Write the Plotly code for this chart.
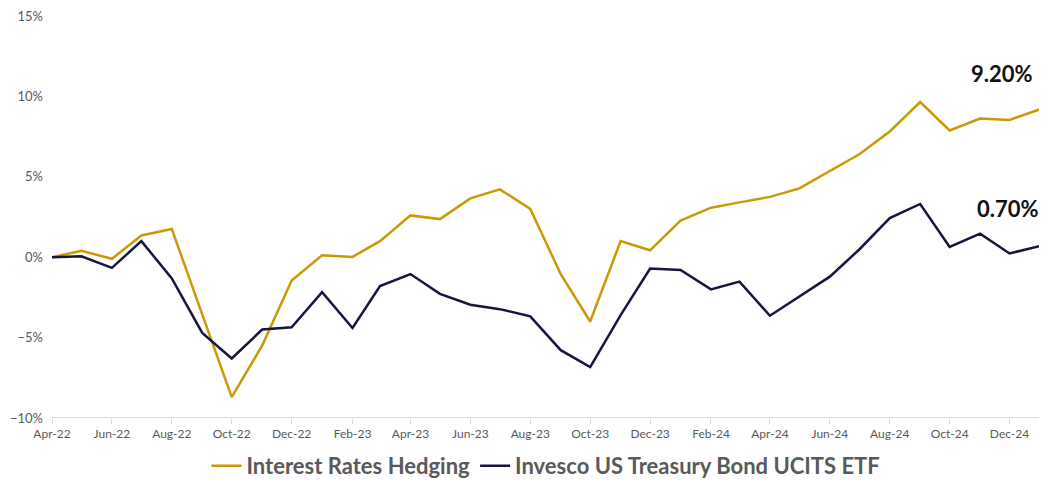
import plotly.graph_objects as go
import pandas as pd

months = pd.date_range("2022-04-01", "2025-01-01", freq="MS")

hedging = [0.0, 0.4, -0.1, 1.35, 1.75, -3.5, -8.7, -5.5, -1.45, 0.12, 0.02, 1.0, 2.6, 2.37, 3.66, 4.22,
           3.0, -1.05, -4.0, 1.0, 0.43, 2.28, 3.08, 3.41, 3.75, 4.28, 5.35, 6.4, 7.82, 9.65, 7.88, 8.62,
           8.54, 9.2]
invesco = [0.0, 0.06, -0.66, 1.0, -1.32, -4.71, -6.3, -4.5, -4.36, -2.18, -4.4, -1.79, -1.05, -2.28,
           -2.96, -3.23, -3.68, -5.78, -6.83, -3.6, -0.7, -0.8, -2.0, -1.52, -3.64, -2.45, -1.21, 0.48,
           2.43, 3.31, 0.64, 1.46, 0.23, 0.7]

series_names = ["Interest Rates Hedging", "Invesco US Treasury Bond UCITS ETF"]
series_colors = ["#C99A06", "#15153D"]
end_labels = ["9.20%", "0.70%"]

FONT = "Lato, Liberation Sans, Arial, sans-serif"

fig = go.Figure()
for name, vals, col in zip(series_names, [hedging, invesco], series_colors):
    fig.add_trace(go.Scatter(x=months, y=vals, mode="lines", name=name,
                             line=dict(color=col, width=2.5)))

fig.add_annotation(x=1, xref="paper", y=11.4, yref="y", text="<b>" + end_labels[0] + "</b>",
                   showarrow=False, xanchor="right", xshift=-5,
                   font=dict(family=FONT, size=22, color="#111111"))
fig.add_annotation(x=1, xref="paper", y=3.05, yref="y", text="<b>" + end_labels[1] + "</b>",
                   showarrow=False, xanchor="right", xshift=1,
                   font=dict(family=FONT, size=22, color="#111111"))

fig.update_layout(
    width=1039, height=472,
    margin=dict(l=44, r=7, t=8, b=62, autoexpand=False),
    plot_bgcolor="white", paper_bgcolor="white",
    font=dict(family=FONT, color="#595959"),
    showlegend=True,
    legend=dict(orientation="h", x=0.5, xanchor="center", y=-0.119, yanchor="middle",
                bgcolor="rgba(0,0,0,0)",
                font=dict(size=22, color="#595959", family=FONT, weight="bold"),
                itemwidth=30, tracegroupgap=0),
    xaxis=dict(type="date", range=[months[0], months[-1]], dtick="M2", tick0=months[0],
               tickformat="%b-%y", showgrid=False, zeroline=False, automargin=False,
               ticklabeloverflow="allow",
               showline=False, ticks="outside", ticklen=5, tickcolor="#D9D9D9", tickwidth=1,
               tickfont=dict(size=12, color="#595959")),
    yaxis=dict(range=[-10, 15], dtick=5, ticksuffix="%", showgrid=False, zeroline=False,
               automargin=False, ticklabeloverflow="allow",
               showline=False, tickfont=dict(size=13, color="#595959"), ticklabelstandoff=8),
)
fig.add_shape(type="line", xref="paper", yref="y", x0=0, x1=1, y0=-10, y1=-10,
              line=dict(color="#D9D9D9", width=2), layer="below")

fig.write_html("out.html")
